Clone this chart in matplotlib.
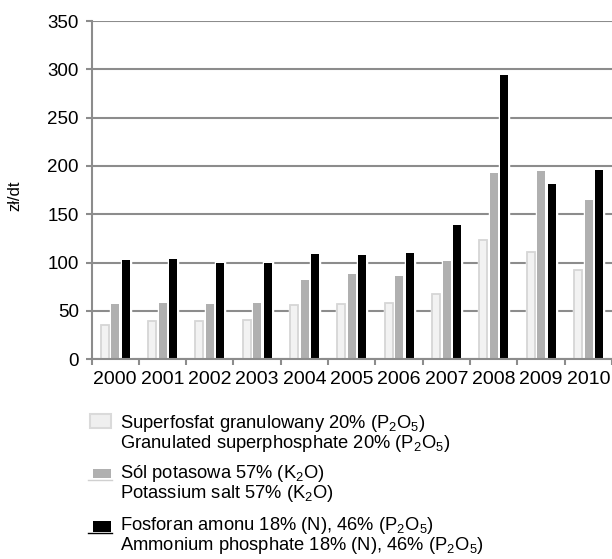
import matplotlib
matplotlib.use("Agg")
import matplotlib.pyplot as plt
from matplotlib.patches import Rectangle
from matplotlib.lines import Line2D
import numpy as np

plt.rcParams['font.family'] = ['Liberation Sans', 'DejaVu Sans']
plt.rcParams['mathtext.default'] = 'regular'

years = ['2000', '2001', '2002', '2003', '2004', '2005', '2006', '2007', '2008', '2009', '2010']
superfosfat = [36, 40, 40, 41, 56, 57, 58, 68, 123, 111, 92]
sol_potasowa = [57, 58, 57, 58, 82, 88, 86, 102, 193, 195, 165]
fosforan = [103, 104, 100, 100, 109, 108, 110, 139, 294, 181, 196]

legend_lines = [
    ("Superfosfat granulowany 20% (P$_2$O$_5$)", "Granulated superphosphate 20% (P$_2$O$_5$)"),
    ("Sól potasowa 57% (K$_2$O)", "Potassium salt 57% (K$_2$O)"),
    ("Fosforan amonu 18% (N), 46% (P$_2$O$_5$)", "Ammonium phosphate 18% (N), 46% (P$_2$O$_5$)"),
]

W, H = 612, 559
fig = plt.figure(figsize=(W / 100, H / 100), dpi=100)
ax = fig.add_axes([91.5 / W, 1 - 359.3 / H, 1 - 91.5 / W, (359.3 - 21) / H])

grey = '#8c8c8c'
c_light, c_light_edge = '#f2f2f2', '#d6d6d6'
c_mid = '#b0b0b0'
c_dark = '#000000'

x = np.arange(len(years))
w = 0.17
offs = [-0.22, 0.005, 0.225]
series = [superfosfat, sol_potasowa, fosforan]
colors = [c_light, c_mid, c_dark]

for s, col, o in zip(series, colors, offs):
    ax.bar(x + o, s, width=w, color=col, edgecolor='white', linewidth=2.5, zorder=2)
ax.bar(x + offs[0], superfosfat, width=w, color=c_light, edgecolor=c_light_edge, linewidth=1.3, zorder=3)
for s, col, o in zip(series[1:], colors[1:], offs[1:]):
    ax.bar(x + o, s, width=w, color=col, linewidth=0, zorder=3)

ax.set_xlim(-0.5, 10.5)
ax.set_ylim(0, 350)
ax.set_yticks(np.arange(0, 351, 50))
ax.yaxis.grid(True, color=grey, linewidth=1.5, zorder=0)
ax.set_axisbelow(True)

for sp in ['top', 'right']:
    ax.spines[sp].set_visible(False)
for sp in ['left', 'bottom']:
    ax.spines[sp].set_color(grey)
    ax.spines[sp].set_linewidth(1.5)
    ax.spines[sp].set_zorder(4)

ax.set_xticks(x)
ax.set_xticklabels(years)
ax.set_xticks(np.arange(-0.5, 10.6, 1.0), minor=True)
ax.tick_params(axis='x', which='major', length=0, pad=8.5, labelsize=14)
ax.tick_params(axis='x', which='minor', length=4, width=1.5, color=grey)
ax.tick_params(axis='y', which='major', length=4, width=1.5, color=grey, pad=5, labelsize=13.5)

fig.text(15 / W, 1 - 196 / H, 'zł/dt', rotation=90, ha='center', va='center', fontsize=12)

# legend
text_x = 119.5 / W
line_y = [(423, 443), (474, 494), (526, 546)]
for (l1, l2), (y1, y2) in zip(legend_lines, line_y):
    fig.text(text_x, 1 - y1 / H, l1, ha='left', va='center', fontsize=13.2)
    fig.text(text_x, 1 - y2 / H, l2, ha='left', va='center', fontsize=13.2)

def rect(x0, y0, x1, y1, fc, ec='none', lw=0):
    fig.add_artist(Rectangle((x0 / W, 1 - y1 / H), (x1 - x0) / W, (y1 - y0) / H,
                             facecolor=fc, edgecolor=ec, linewidth=lw, transform=fig.transFigure))

def hline(x0, x1, y, col, lw):
    fig.add_artist(Line2D([x0 / W, x1 / W], [1 - y / H, 1 - y / H], color=col, linewidth=lw,
                          transform=fig.transFigure))

rect(89.5, 413.5, 110.5, 427.5, '#efefef', '#dadada', 1.5)
rect(92.7, 469, 110.7, 478, c_mid)
hline(88.3, 111.7, 479.5, '#d0d0d0', 1.0)
rect(92.7, 521, 110.7, 532, c_dark)
hline(88.3, 111.7, 533.2, c_dark, 1.0)

fig.savefig('out.png', dpi=100)
